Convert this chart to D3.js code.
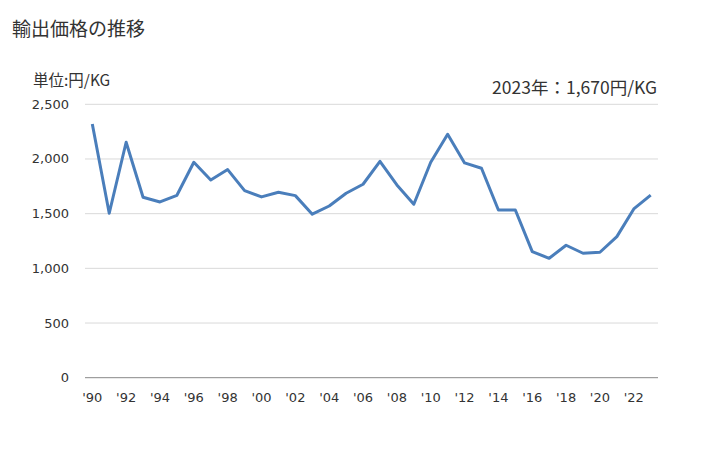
<!DOCTYPE html>
<html><head><meta charset="utf-8">
<script src="https://cdn.jsdelivr.net/npm/d3@7"></script>
<style>body{margin:0;background:#fff;}svg{display:block;font-family:"Noto Sans CJK JP","Noto Sans",sans-serif;}</style>
</head><body>
<svg id="c" width="728" height="450"></svg>
<script>
const years = d3.range(1990, 2024);
const values = [2320,1504,2153,1650,1607,1668,1970,1808,1903,1711,1653,1696,1665,1495,1570,1687,1769,1979,1763,1586,1970,2226,1964,1915,1534,1534,1153,1092,1211,1138,1147,1290,1543,1670];
const yTicks = [0,500,1000,1500,2000,2500];
const xTickYears = d3.range(1990, 2024, 2);
const title = "輸出価格の推移";
const unit = "単位:円/KG";
const note = "2023年：1,670円/KG";

const svg = d3.select("#c");
const x = d3.scaleLinear().domain([1990, 2023]).range([92.3, 650.7]);
const y = d3.scaleLinear().domain([0, 2500]).range([377.7, 104.3]);
const left = 85, right = 658;

svg.append("text").attr("x", 12).attr("y", 36).attr("font-size", 19).attr("fill", "#333").text(title);
svg.append("text").attr("x", 33).attr("y", 86).attr("font-size", 15.5).attr("fill", "#333").text(unit);
svg.append("text").attr("x", 657).attr("y", 94).attr("text-anchor", "end").attr("font-size", 17.5).attr("fill", "#333").text(note);

svg.append("g").selectAll("line").data(yTicks.filter(d => d > 0)).join("line")
  .attr("x1", left).attr("x2", right).attr("y1", d => y(d)).attr("y2", d => y(d))
  .attr("stroke", "#d9d9d9").attr("stroke-width", 1);
svg.append("line").attr("x1", left).attr("x2", right).attr("y1", y(0)).attr("y2", y(0))
  .attr("stroke", "#888").attr("stroke-width", 1);

svg.append("g").selectAll("text").data(yTicks).join("text")
  .attr("x", 69).attr("y", d => y(d) + 4.5).attr("text-anchor", "end")
  .style("font-family", "'DejaVu Sans', sans-serif").attr("font-size", 13).attr("fill", "#333").text(d => d3.format(",")(d));

svg.append("g").selectAll("text").data(xTickYears).join("text")
  .attr("x", d => x(d)).attr("y", 402).attr("text-anchor", "middle")
  .style("font-family", "'DejaVu Sans', sans-serif").attr("font-size", 13).attr("fill", "#333").text(d => "'" + String(d).slice(2));

const line = d3.line().x((d, i) => x(years[i])).y(d => y(d));
svg.append("path").datum(values).attr("d", line).attr("fill", "none")
  .attr("stroke", "#4a7ebb").attr("stroke-width", 3).attr("stroke-linejoin", "round");
</script>
</body></html>
